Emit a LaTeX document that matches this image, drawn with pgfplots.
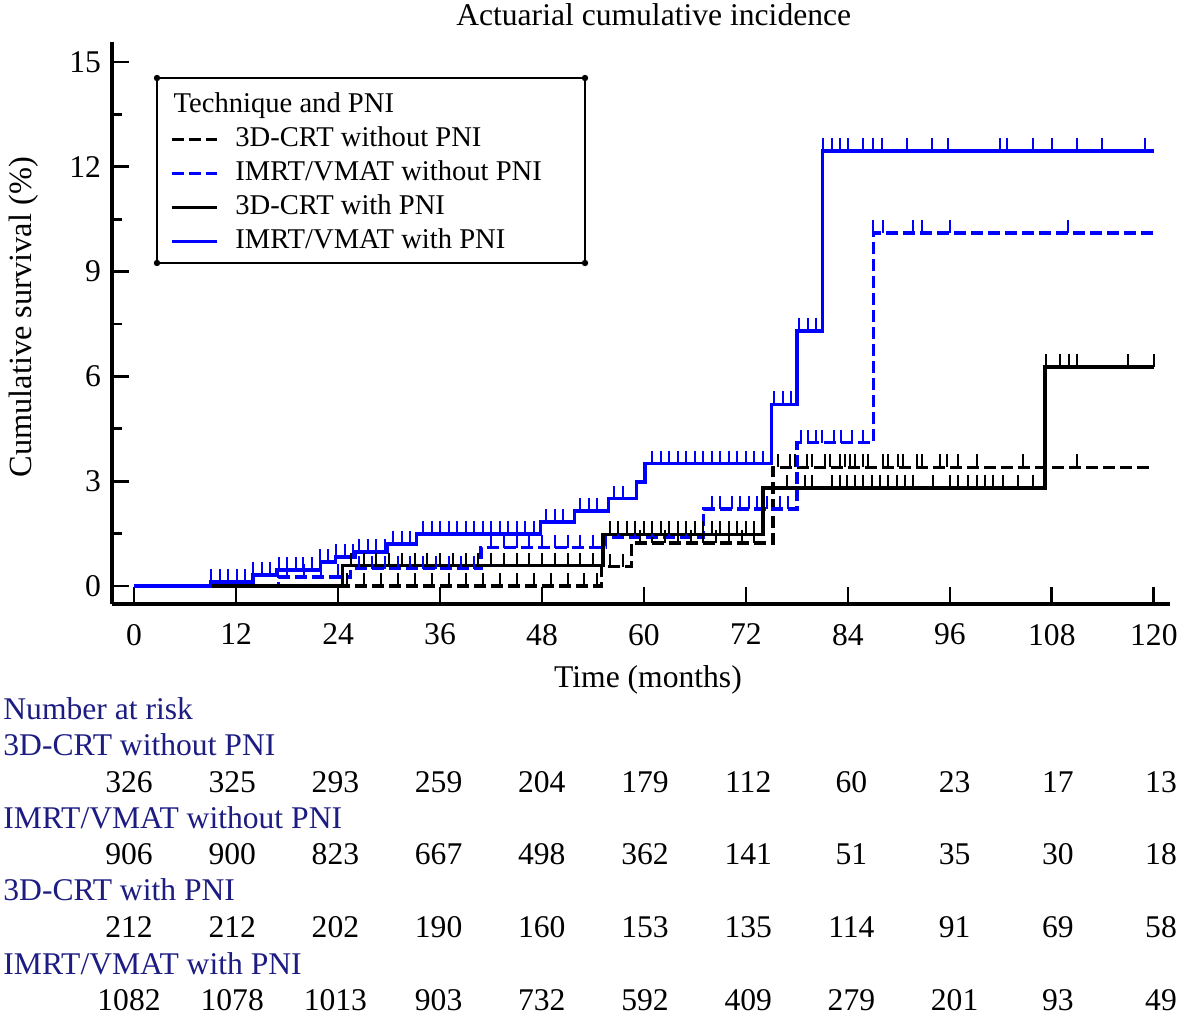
\documentclass[border=0pt]{standalone}
\usepackage{fontspec}
\setmainfont{Liberation Serif}
\usepackage{pgfplots}
\pgfplotsset{compat=1.18}
\definecolor{kmblue}{RGB}{0,0,255}
\definecolor{navy}{RGB}{28,28,130}
\pgfdeclareplotmark{cens}{\pgfpathmoveto{\pgfpointorigin}\pgfpathlineto{\pgfqpoint{0pt}{6.5pt}}\pgfusepathqstroke}
\pgfplotsset{legend image code/.code={\draw[#1] (0pt,0pt) -- (22.5pt,0pt);}}
\newcommand{\fs}{\rmfamily\fontsize{14.3pt}{17pt}\selectfont}
\newcommand{\fb}{\rmfamily\fontsize{15.8pt}{19pt}\selectfont}
\begin{document}
\begin{tikzpicture}[font=\fb]
\useasboundingbox (-56pt,-207pt) rectangle (534.5pt,302pt);
\begin{axis}[
  at={(0pt,0pt)}, anchor=south west,
  scale only axis, width=529pt, height=281pt,
  xmin=-2.6, xmax=121.9, ymin=-0.515, ymax=15.57,
  axis lines=left,
  axis line style={-, line width=1.6pt},
  xtick={0,12,...,120}, ytick={0,3,...,15}, minor ytick={1.5,4.5,...,13.5},
  tick align=inside, major tick length=8.5pt, minor tick length=5pt,
  tick style={black, line width=1.4pt},
  /pgf/number format/assume math mode=true,
  tick label style={font=\fb},
  xticklabel style={yshift=-6.5pt},
  yticklabel style={xshift=-2pt},
  title={Actuarial cumulative incidence},
  title style={at={(axis description cs:0.512,1.048)}, anchor=center, yshift=-6pt, font=\fb},
  xlabel={Time (months)},
  xlabel style={at={(axis description cs:0.5066,-0.135)}, anchor=center, font=\fb},
  ylabel={Cumulative survival (\%)},
  ylabel style={at={(axis description cs:-0.083,0.51)}, anchor=center, font=\rmfamily\fontsize{16.2pt}{19pt}\selectfont},
  clip=false,
  legend cell align=left,
  legend style={at={(0.0548,0.910)}, anchor=north west, draw=none, fill=none,
    inner sep=0pt, outer sep=0pt, row sep=4pt, column sep=8.5pt, font=\fs,
    nodes={inner sep=0pt, text height=10pt, text depth=3pt, font=\fs}},
]
\addlegendimage{legend image code/.code={\node[overlay,anchor=west,inner sep=0pt,text height=10pt,text depth=3pt,font=\fs] at (1pt,0pt) {Technique and PNI};}}
\addlegendentry{}
% 3D-CRT without PNI
\addplot[black, line width=1.7pt, dash pattern=on 6pt off 2.5pt, const plot] table {
0 0
55 0.55
58.5 1.23
75.2 3.4
120 3.4
};
\addlegendentry{3D-CRT without PNI}
% IMRT/VMAT without PNI
\addplot[kmblue, line width=1.7pt, dash pattern=on 6pt off 2.5pt, const plot] table {
0 0
17 0.26
25.5 0.5
40.8 1.1
55.5 1.4
67 2.2
78 4.1
87 10.1
120 10.1
};
\addlegendentry{IMRT/VMAT without PNI}
% 3D-CRT with PNI
\addplot[black, line width=1.7pt, const plot] table {
0 0
24.5 0.58
55.2 1.48
74 2.8
107.2 6.27
120 6.27
};
\addlegendentry{3D-CRT with PNI}
% IMRT/VMAT with PNI
\addplot[kmblue, line width=1.7pt, const plot] table {
0 0
9 0.11
14 0.31
16.8 0.46
21.9 0.69
23.7 0.83
26 0.97
29.8 1.2
33.2 1.49
47.8 1.83
51.8 2.15
55.8 2.5
59.1 2.98
60.1 3.5
75 5.2
78 7.3
81 12.45
120 12.45
};
\addlegendentry{IMRT/VMAT with PNI}
% censoring marks
\addplot[forget plot, only marks, mark=cens, black, mark options={solid, line width=1pt}] table {
25 0
27 0
29 0
31 0
33 0
35 0
37 0
39 0
41 0
43 0
45 0
47 0
49 0
51 0
53 0
54.5 0
56 0.55
57.5 0.55
59.5 1.23
61 1.23
62.5 1.23
64 1.23
65.5 1.23
67 1.23
68.5 1.23
70 1.23
71.5 1.23
73 1.23
75.8 3.4
77.2 3.4
77.8 3.4
79.2 3.4
79.8 3.4
81.3 3.4
81.9 3.4
83.1 3.4
83.6 3.4
84.2 3.4
84.8 3.4
85.8 3.4
86.4 3.4
88.1 3.4
88.7 3.4
89.9 3.4
90.5 3.4
92.1 3.4
92.7 3.4
94.8 3.4
95.6 3.4
96.9 3.4
99.2 3.4
104.6 3.4
110.9 3.4
};
\addplot[forget plot, only marks, mark=cens, kmblue, mark options={solid, line width=1pt}] table {
18 0.26
20 0.26
22 0.26
24 0.26
26.5 0.5
28 0.5
29.5 0.5
31 0.5
32.5 0.5
34 0.5
35.5 0.5
37 0.5
38.5 0.5
40 0.5
42 1.1
43.5 1.1
45 1.1
46.5 1.1
48 1.1
49.5 1.1
51 1.1
52.5 1.1
54 1.1
57 1.4
59 1.4
61 1.4
63 1.4
65 1.4
68 2.2
69 2.2
70.3 2.2
71.3 2.2
72.3 2.2
73.3 2.2
74.5 2.2
76 2.2
77 2.2
78.5 4.1
79.3 4.1
80.2 4.1
81 4.1
82.4 4.1
83.2 4.1
84.5 4.1
85.8 4.1
86.9 10.1
88.1 10.1
91.6 10.1
92.7 10.1
96 10.1
109.9 10.1
};
\addplot[forget plot, only marks, mark=cens, black, mark options={solid, line width=1pt}] table {
25.5 0.58
27 0.58
28.5 0.58
30 0.58
31.5 0.58
33 0.58
34.5 0.58
36 0.58
37.5 0.58
39 0.58
40.5 0.58
42 0.58
43.5 0.58
45 0.58
46.5 0.58
48 0.58
49.5 0.58
51 0.58
52.5 0.58
54 0.58
56 1.48
57 1.48
58 1.48
59 1.48
60 1.48
61 1.48
62 1.48
63 1.48
64 1.48
65 1.48
66 1.48
67 1.48
68 1.48
69 1.48
70 1.48
71 1.48
72 1.48
73 1.48
76.8 2.8
78.9 2.8
79.8 2.8
82.1 2.8
83.1 2.8
83.9 2.8
84.8 2.8
85.8 2.8
86.8 2.8
87.8 2.8
88.7 2.8
89.8 2.8
90.7 2.8
91.6 2.8
94 2.8
96 2.8
97 2.8
98.1 2.8
99.2 2.8
100.1 2.8
101.1 2.8
102.2 2.8
104 2.8
105.8 2.8
107.3 6.27
109 6.27
110 6.27
111 6.27
117 6.27
120 6.27
};
\addplot[forget plot, only marks, mark=cens, kmblue, mark options={solid, line width=1pt}] table {
9 0.11
10.1 0.11
11.1 0.11
12.1 0.11
13.1 0.11
14 0.31
15 0.31
16 0.31
17 0.46
18 0.46
19 0.46
19.9 0.46
20.9 0.46
21.9 0.69
22.8 0.69
23.8 0.83
24.8 0.83
25.8 0.83
26.5 0.97
27.5 0.97
28.5 0.97
29.5 0.97
30.5 1.2
31.5 1.2
32.5 1.2
34 1.49
35 1.49
36 1.49
37 1.49
38 1.49
39 1.49
40 1.49
41 1.49
42 1.49
43 1.49
44 1.49
45 1.49
46 1.49
47 1.49
48.5 1.83
49.5 1.83
50.5 1.83
52.5 2.15
53.5 2.15
54.5 2.15
56.5 2.5
57.5 2.5
61 3.5
62 3.5
63 3.5
64 3.5
65 3.5
66 3.5
67 3.5
68 3.5
69 3.5
70 3.5
71 3.5
72 3.5
73 3.5
74 3.5
75.3 5.2
76.3 5.2
77.3 5.2
78.3 7.3
79.3 7.3
80.3 7.3
81.1 12.45
82.1 12.45
83.1 12.45
84 12.45
85.8 12.45
86.9 12.45
88 12.45
90.9 12.45
93.9 12.45
95.8 12.45
101.9 12.45
102.7 12.45
105.8 12.45
108 12.45
110.9 12.45
113.9 12.45
118.9 12.45
};
\end{axis}
% legend frame
\draw[line width=1.3pt] (22.5pt,263pt) rectangle (236.5pt,170.5pt);
\foreach \cx/\cy in {22.5/263, 236.5/263, 22.5/170.5, 236.5/170.5}
  \fill (\cx pt,\cy pt) circle (1.6pt);
% number at risk
\begin{scope}[every node/.style={inner sep=0pt, text height=11pt, text depth=3.5pt, font=\fb}]
\node[anchor=west, text=navy] at (-54.5pt,-54pt) {Number at risk};
\node[anchor=west, text=navy] at (-54.5pt,-72pt) {3D-CRT without PNI};
\node[anchor=west, text=navy] at (-54.5pt,-108.5pt) {IMRT/VMAT without PNI};
\node[anchor=west, text=navy] at (-54.5pt,-144.5pt) {3D-CRT with PNI};
\node[anchor=west, text=navy] at (-54.5pt,-181.5pt) {IMRT/VMAT with PNI};
\foreach \n [count=\i from 0] in {326,325,293,259,204,179,112,60,23,17,13}
  \node at ({8.5pt+51.6pt*\i},-90.5pt) {\n};
\foreach \n [count=\i from 0] in {906,900,823,667,498,362,141,51,35,30,18}
  \node at ({8.5pt+51.6pt*\i},-126.5pt) {\n};
\foreach \n [count=\i from 0] in {212,212,202,190,160,153,135,114,91,69,58}
  \node at ({8.5pt+51.6pt*\i},-163pt) {\n};
\foreach \n [count=\i from 0] in {1082,1078,1013,903,732,592,409,279,201,93,49}
  \node at ({8.5pt+51.6pt*\i},-199.5pt) {\n};
\end{scope}
\end{tikzpicture}
\end{document}
